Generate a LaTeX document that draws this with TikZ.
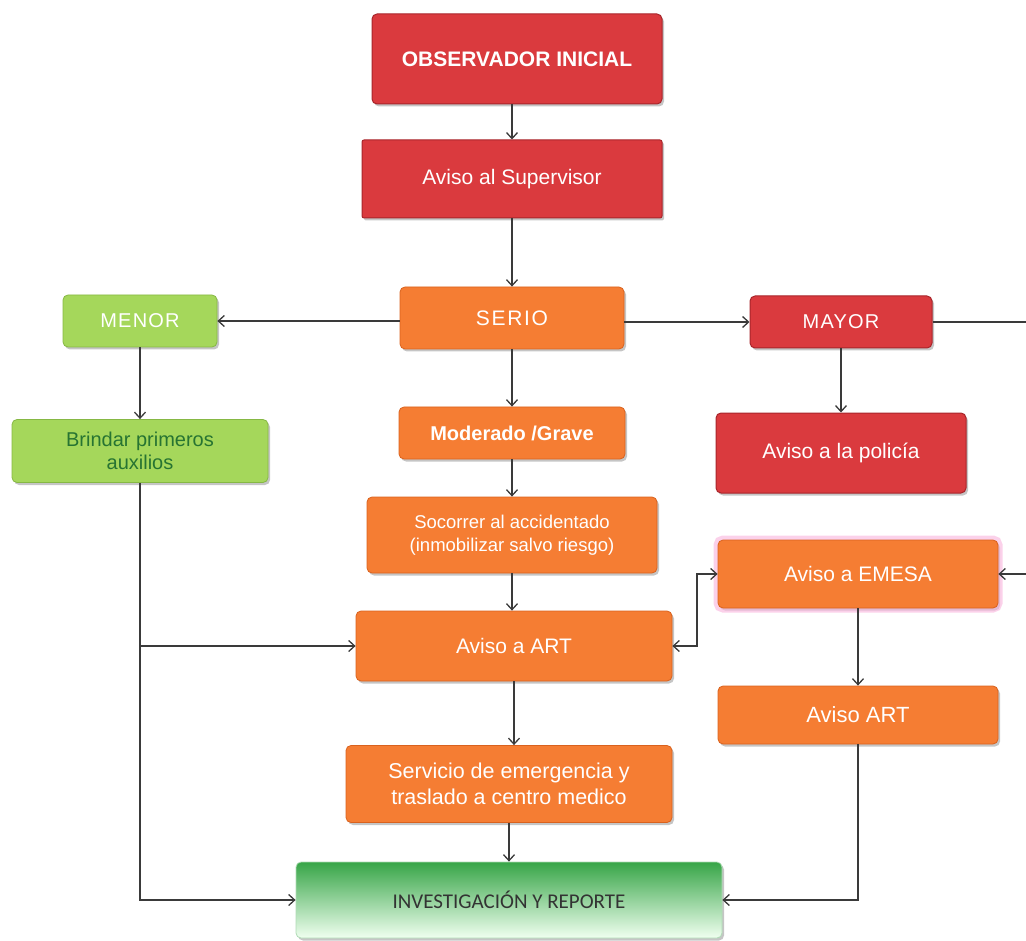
\documentclass[tikz,border=0pt]{standalone}
\usepackage{fontspec}
\setmainfont{Liberation Sans}
\newfontfamily\calibrifont{Carlito}
\usetikzlibrary{arrows.meta,shadows}

\definecolor{rojo}{HTML}{DA3A3E}
\definecolor{rojoborde}{HTML}{A8262B}
\definecolor{naranja}{HTML}{F57D33}
\definecolor{naranjaborde}{HTML}{D9621E}
\definecolor{verde}{HTML}{A5D75B}
\definecolor{verdeborde}{HTML}{86B844}
\definecolor{verdeosc}{HTML}{37A547}
\definecolor{linea}{HTML}{3A3A3A}

\tikzset{
  caja/.style={rounded corners=5pt, align=center, text=white, inner sep=2pt,
    drop shadow={shadow xshift=2pt, shadow yshift=-2.5pt, fill=black!45}},
  cajaroja/.style={caja, fill=rojo, draw=rojoborde, line width=1pt},
  cajanar/.style={caja, fill=naranja, draw=naranjaborde, line width=0.8pt},
  cajaverde/.style={caja, fill=verde, draw=verdeborde, line width=0.8pt},
  flecha/.style={draw=linea, line width=1.3pt, -{Straight Barb[length=6pt,width=11pt]}},
  dobleflecha/.style={flecha, {Straight Barb[length=6pt,width=11pt]}-{Straight Barb[length=6pt,width=11pt]}}
}

\begin{document}
\begin{tikzpicture}[x=1pt,y=-1pt]
  \useasboundingbox (0,0) rectangle (1026,941);

  \node[cajaroja, minimum width=290, minimum height=90, font=\fontsize{21}{25}\selectfont\bfseries] (obs) at (517,59) {OBSERVADOR INICIAL};
  \node[cajaroja, rounded corners=2pt, minimum width=300, minimum height=78, font=\fontsize{21}{25}\selectfont] (sup) at (512,179) {Aviso al Supervisor};
  \node[cajanar, minimum width=224, minimum height=62, font=\fontsize{21}{25}\selectfont\addfontfeature{LetterSpace=8}] (serio) at (512,318) {SERIO};
  \node[cajaverde, minimum width=154, minimum height=52, font=\fontsize{20}{24}\selectfont\addfontfeature{LetterSpace=6}] (menor) at (140,321) {MENOR};
  \node[cajaroja, minimum width=182, minimum height=52, font=\fontsize{20}{24}\selectfont\addfontfeature{LetterSpace=6}] (mayor) at (841,322) {MAYOR};
  \node[cajaverde, minimum width=256, minimum height=63, text=verdeosc!70!black, font=\fontsize{20}{23}\selectfont] (brindar) at (140,451) {Brindar primeros\\auxilios};
  \node[cajanar, minimum width=226, minimum height=52, font=\fontsize{20}{24}\selectfont\bfseries] (moder) at (512,433) {Moderado /Grave};
  \node[cajaroja, minimum width=250, minimum height=80, font=\fontsize{21}{25}\selectfont] (policia) at (841,453) {Aviso a la policía};
  \node[cajanar, minimum width=290, minimum height=76, font=\fontsize{18.5}{23}\selectfont] (socorrer) at (512,535) {Socorrer al accidentado\\(inmobilizar salvo riesgo)};
  \node[cajanar, minimum width=280, minimum height=68, font=\fontsize{21}{25}\selectfont,
    preaction={draw=magenta!30, line width=9pt, opacity=0.6}] (emesa) at (858,574) {Aviso a EMESA};
  \node[cajanar, minimum width=316, minimum height=70, font=\fontsize{21}{25}\selectfont] (art) at (514,646) {Aviso a ART};
  \node[cajanar, minimum width=280, minimum height=58, font=\fontsize{22}{26}\selectfont] (avart) at (858,715) {Aviso ART};
  \node[cajanar, minimum width=326, minimum height=77, font=\fontsize{21.5}{26}\selectfont] (serv) at (509,784) {Servicio de emergencia y\\traslado a centro medico};
  \node[caja, minimum width=426, minimum height=76, top color=verdeosc, bottom color=green!6!white,
    draw=verdeosc!40, line width=0.8pt, text=black!80, font=\calibrifont\fontsize{21}{25}\selectfont] (inv) at (509,900) {INVESTIGACIÓN Y REPORTE};

  \coordinate (borde) at (1030,322);
  \coordinate (union) at (697,610);

  \draw[flecha] (sup.north |- obs.south) -- (sup.north);
  \draw[flecha] (sup) -- (serio);
  \draw[flecha] (serio.west |- menor.east) -- (menor.east);
  \draw[flecha] (serio.east |- mayor.west) -- (mayor.west);
  \draw[flecha] (mayor.east) -- (borde) |- (emesa.east);
  \draw[flecha] (menor) -- (brindar);
  \draw[flecha] (mayor) -- (policia);
  \draw[flecha] (serio) -- (moder);
  \draw[flecha] (moder) -- (socorrer);
  \draw[flecha] (socorrer) -- (socorrer |- art.north);
  \draw[flecha] (art) -- (art |- serv.north);
  \draw[flecha] (serv) -- (serv |- inv.north);
  \draw[dobleflecha] (art.east) -| (union) |- (emesa.west);
  \draw[flecha] (emesa) -- (avart);
  \draw[flecha] (brindar.south) |- (inv.west);
  \draw[flecha] (brindar.south |- art.west) -- (art.west);
  \draw[flecha] (avart.south) |- (inv.east);
\end{tikzpicture}
\end{document}
